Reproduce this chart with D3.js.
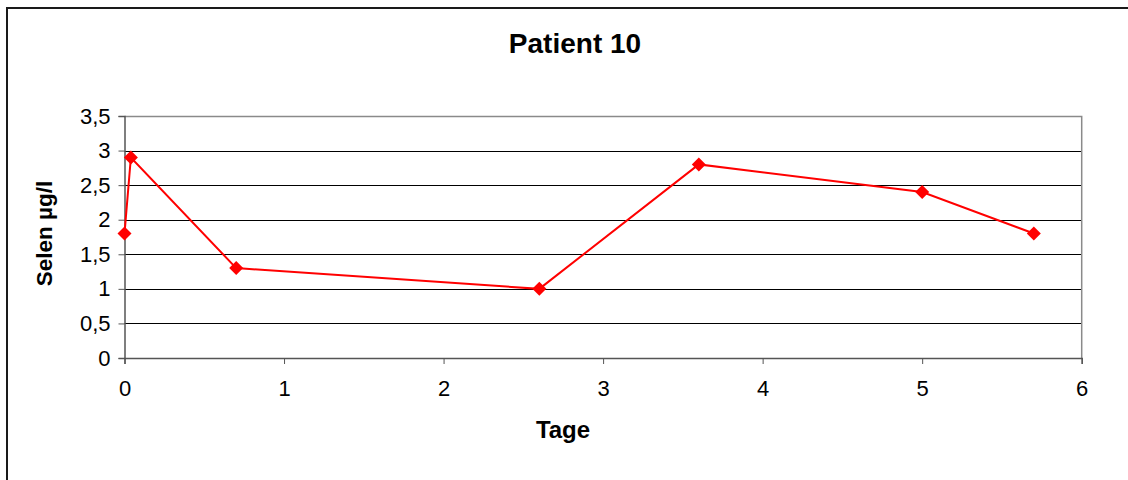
<!DOCTYPE html>
<html>
<head>
<meta charset="utf-8">
<script src="https://cdn.jsdelivr.net/npm/d3@7"></script>
<style>
  html, body { margin: 0; padding: 0; background: #fff; }
  svg { display: block; font-family: "Liberation Sans", Arial, sans-serif; }
</style>
</head>
<body>
<svg id="chart" width="1128" height="480"></svg>
<script>
// Selenium measurements for patient 10
const days  = [0, 0.04, 0.7, 2.6, 3.6, 5, 5.7];
const selen = [1.8, 2.9, 1.3, 1.0, 2.8, 2.4, 1.8];
const xTicks = [0, 1, 2, 3, 4, 5, 6];
const yTicks = [0, 0.5, 1, 1.5, 2, 2.5, 3, 3.5];

const title = "Patient 10";
const xTitle = "Tage";
const yTitle = "Selen µg/l";

const svg = d3.select("#chart");
const plot = { left: 124.5, right: 1081.7, top: 116, bottom: 358 };

const x = d3.scaleLinear().domain([0, 6]).range([plot.left, plot.right]);
const y = d3.scaleLinear().domain([0, 3.5]).range([plot.bottom, plot.top]);

const deFormat = d3.formatLocale({ decimal: ",", thousands: ".", grouping: [3], currency: ["", " €"] }).format("~g");

// outer chart frame
svg.append("rect")
  .attr("x", 7).attr("y", 8)
  .attr("width", 1140).attr("height", 500)
  .attr("fill", "#fff").attr("stroke", "#1a1a1a").attr("stroke-width", 2);

// horizontal gridlines
svg.append("g")
  .selectAll("line")
  .data(yTicks.filter(v => v > 0 && v < 3.5))
  .join("line")
  .attr("x1", plot.left).attr("x2", plot.right)
  .attr("y1", d => Math.round(y(d)) + 0.5).attr("y2", d => Math.round(y(d)) + 0.5)
  .attr("stroke", "#000").attr("stroke-width", 1);

// plot area border (top and right)
svg.append("path")
  .attr("d", `M${plot.left},${plot.top + 0.5}H${plot.right}V${plot.bottom}`)
  .attr("fill", "none").attr("stroke", "#8a8a8a").attr("stroke-width", 1.5);

// y axis
const yAxis = d3.axisLeft(y).tickValues(yTicks).tickSize(6).tickPadding(8).tickFormat(deFormat);
const gy = svg.append("g").attr("transform", `translate(${plot.left},0)`).call(yAxis);
gy.select(".domain").attr("stroke", "#555").attr("stroke-width", 1.5);
gy.selectAll(".tick line").attr("stroke", "#555");
gy.selectAll(".tick text")
  .attr("font-size", 22).attr("fill", "#000")
  .attr("font-family", "'Liberation Sans', Arial, sans-serif");

// x axis
const xAxis = d3.axisBottom(x).tickValues(xTicks).tickSize(6).tickPadding(8).tickFormat(deFormat);
const gx = svg.append("g").attr("transform", `translate(0,${plot.bottom})`).call(xAxis);
gx.select(".domain").attr("stroke", "#555").attr("stroke-width", 1.5);
gx.selectAll(".tick line").attr("stroke", "#555");
gx.selectAll(".tick text")
  .attr("font-size", 22).attr("fill", "#000")
  .attr("dy", "1.1em")
  .attr("font-family", "'Liberation Sans', Arial, sans-serif");

// data line
const pts = days.map((d, i) => [d, selen[i]]);
svg.append("path")
  .datum(pts)
  .attr("fill", "none")
  .attr("stroke", "#ff0000")
  .attr("stroke-width", 2)
  .attr("d", d3.line().x(d => x(d[0])).y(d => y(d[1])));

// diamond markers
svg.append("g")
  .selectAll("path")
  .data(pts)
  .join("path")
  .attr("transform", d => `translate(${x(d[0])},${y(d[1])})`)
  .attr("d", "M0,-7L7,0L0,7L-7,0Z")
  .attr("fill", "#ff0000");

// titles
svg.append("text")
  .attr("x", 575).attr("y", 52.5)
  .attr("text-anchor", "middle")
  .attr("font-size", 28).attr("font-weight", "bold")
  .text(title);

svg.append("text")
  .attr("x", 563).attr("y", 437.5)
  .attr("text-anchor", "middle")
  .attr("font-size", 24).attr("font-weight", "bold")
  .text(xTitle);

svg.append("text")
  .attr("transform", "translate(52,233.5) rotate(-90)")
  .attr("text-anchor", "middle")
  .attr("font-size", 22.5).attr("font-weight", "bold")
  .text(yTitle);
</script>
</body>
</html>
